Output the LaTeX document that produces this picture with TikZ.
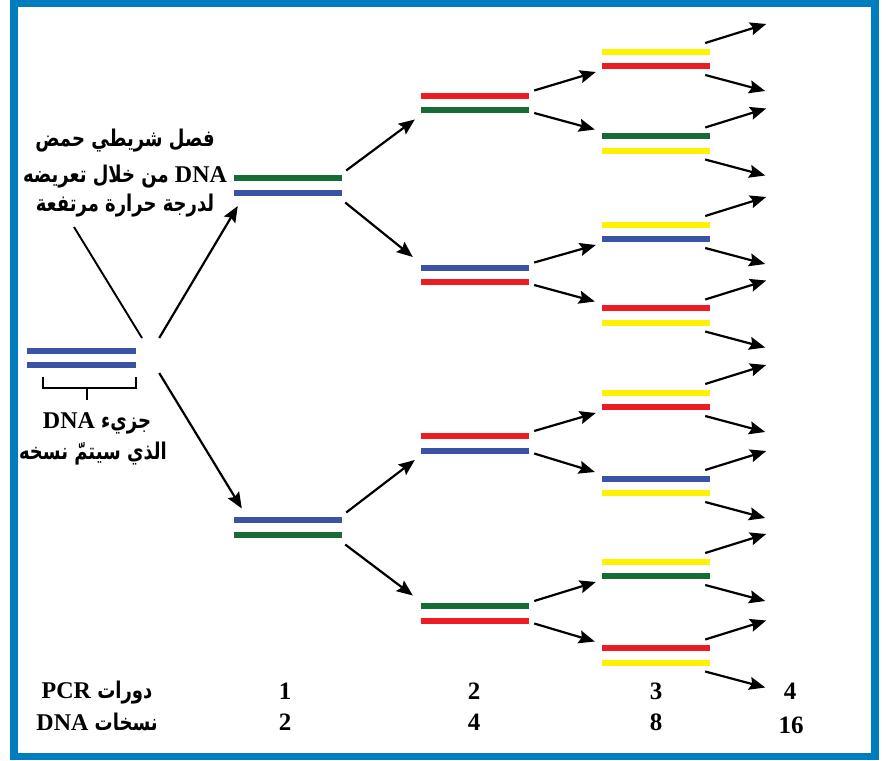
\documentclass[tikz,border=0pt]{standalone}
\usepackage{fontspec}
\usepackage{graphicx}
\setmainfont{Liberation Serif}
\newfontfamily\arabicfont[Script=Arabic]{DejaVu Sans}
\newfontfamily\latinfont{Liberation Serif}
\TeXXeTstate=1
\usetikzlibrary{arrows.meta}
\definecolor{framec}{RGB}{0,125,190}
\definecolor{dgreen}{RGB}{23,107,52}
\definecolor{dblue}{RGB}{58,83,164}
\definecolor{dred}{RGB}{237,28,36}
\definecolor{dyellow}{RGB}{255,242,0}
\newcommand\dnapair[6][108]{%
  \node[pairbox,minimum width=#1pt] (#2) at (#3,#4) {};
  \draw[bar,draw=#5] ([yshift=-3pt]#2.north west) -- ([yshift=-3pt]#2.north east);
  \draw[bar,draw=#6] ([yshift=3pt]#2.south west) -- ([yshift=3pt]#2.south east);
}
\newcommand\latw[1]{{\latinfont\fontsize{24}{26}\selectfont #1}}
% Arabic run, set right to left, stretched vertically to the reference's height
\newcommand\arw[1]{\scalebox{1}[1.28]{\beginR #1\endR}}
\begin{document}
\begin{tikzpicture}[x=1pt,y=-1pt,
  bar/.style={line width=6pt},
  pairbox/.style={inner sep=0pt,minimum height=20pt,draw=none},
  arr/.style={line width=2.2pt,-{Stealth[length=16pt,width=13pt,inset=2.5pt]}},
  pointer/.style={line width=1.9pt},
  brk/.style={line width=1.9pt},
  arabtxt/.style={font=\arabicfont\bfseries\fontsize{18}{22}\selectfont,anchor=base,inner sep=0pt},
  num/.style={font=\latinfont\bfseries\fontsize{25}{27}\selectfont,anchor=base,inner sep=0pt}]
\useasboundingbox (0,0) rectangle (890,760);
\draw[framec,line width=7.5pt] (13.75,3.75) rectangle (875,756.25);

% DNA pairs
\dnapair[109]{g0}{81.5}{358}{dblue}{dblue}
\dnapair{g1a}{288}{185.5}{dgreen}{dblue}
\dnapair{g1b}{288}{527.5}{dblue}{dgreen}
\dnapair{g2a}{475}{103}{dred}{dgreen}
\dnapair{g2b}{475}{275}{dblue}{dred}
\dnapair{g2c}{475}{443.5}{dred}{dblue}
\dnapair{g2d}{475}{613.5}{dgreen}{dred}
\dnapair{g3a}{656}{59}{dyellow}{dred}
\dnapair{g3b}{656}{143.5}{dgreen}{dyellow}
\dnapair{g3c}{656}{232}{dyellow}{dblue}
\dnapair{g3d}{656}{315.5}{dred}{dyellow}
\dnapair{g3e}{656}{400}{dyellow}{dred}
\dnapair{g3f}{656}{486}{dblue}{dyellow}
\dnapair{g3g}{656}{569}{dyellow}{dgreen}
\dnapair{g3h}{656}{655.5}{dred}{dyellow}

% bracket under the original molecule
\coordinate (bl) at ([shift={(16,9)}]g0.south west);
\coordinate (br) at ([shift={(0,9)}]g0.south east);
\coordinate (bt) at ([shift={(5.5,20)}]g0.south);
\coordinate (bm) at ([shift={(5.5,32)}]g0.south);
\draw[brk] (bl) -- ++(0,11) -| (br);
\draw[brk] (bt) -- (bm);

% generation 0 -> 1
\draw[arr] ([shift={(23,-20)}]g0.east) -- ([shift={(4,20.5)}]g1a.west);
\draw[arr] ([shift={(23,15)}]g0.east) -- ([shift={(8,-19)}]g1b.west);

% generation 1 -> 2
\foreach \s/\u/\d in {a/a/b, b/c/d}{
  \draw[arr] ([shift={(4,-15)}]g1\s.east) -- ([shift={(-6,16.5)}]g2\u.west);
  \draw[arr] ([shift={(3,17)}]g1\s.east) -- ([shift={(-8,-18)}]g2\d.west);
}

% generation 2 -> 3
\foreach \s/\u/\d in {a/a/b, b/c/d, c/e/f, d/g/h}{
  \draw[arr] ([shift={(5,-12.5)}]g2\s.east) -- ([shift={(-6,13)}]g3\u.west);
  \draw[arr] ([shift={(5,10)}]g2\s.east) -- ([shift={(-7,-14)}]g3\d.west);
}

% generation 3 -> 4
\foreach \p in {a,b,c,d,e,f,g,h}{
  \coordinate (o\p1) at ([shift={(56,-35)}]g3\p.east);
  \coordinate (o\p2) at ([shift={(55,32)}]g3\p.east);
  \draw[arr] ([shift={(-5,-16)}]g3\p.east) -- (o\p1);
  \draw[arr] ([shift={(-5,16)}]g3\p.east) -- (o\p2);
}

% heat label (mixed lines written in visual order, left to right)
\node[arabtxt] (h1) at (125,146) {\arw{فصل شريطي حمض}};
\node[arabtxt] (h2) at (125,182) {\arw{من خلال تعريضه} \latw{DNA}};
\node[arabtxt] (h3) at (125,211) {\arw{لدرجة حرارة مرتفعة}};
\coordinate (ptA) at (74,227);
\coordinate (ptB) at (142,338);
\draw[pointer] (ptA) -- (ptB);

% template label
\node[arabtxt] (t1) at (97,428) {\latw{DNA} \arw{جزيء}};
\node[arabtxt] (t2) at (93,459) {\arw{الذي سيتمّ نسخه}};

% bottom table
\node[arabtxt] (r1) at (97,698) {\latw{PCR} \arw{دورات}};
\node[arabtxt] (r2) at (97,730) {\latw{DNA} \arw{نسخات}};
\node[num] (c1) at (285,699) {1};
\node[num] (c2) at (474,699) {2};
\node[num] (c3) at (656,699) {3};
\node[num] (c4) at (790,699) {4};
\node[num] (n1) at (285,730) {2};
\node[num] (n2) at (474,730) {4};
\node[num] (n3) at (656,730) {8};
\node[num] (n4) at (791,733) {16};
\end{tikzpicture}
\end{document}
